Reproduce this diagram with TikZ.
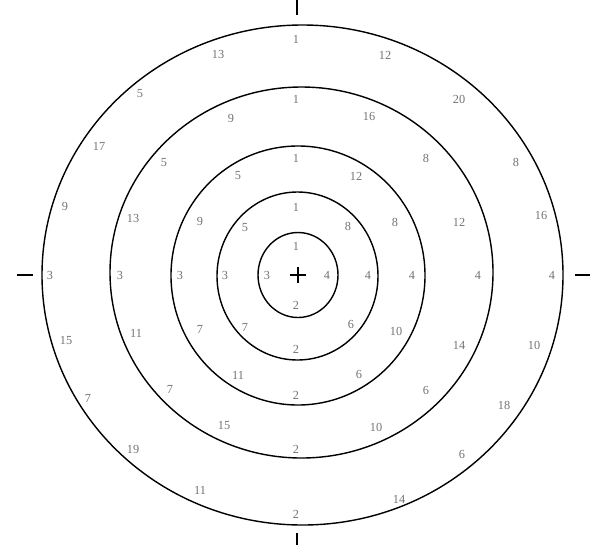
\documentclass[tikz,border=0pt]{standalone}
\usepackage{fontspec}
\setmainfont{Liberation Serif}
\usepackage{tikz}
\usetikzlibrary{positioning,calc}

\begin{document}
\begin{tikzpicture}[x=0.02cm, y=-0.02cm,
  ring/.style={draw, line width=0.8pt},
  mark line/.style={draw, line width=0.9pt},
  num/.style={text=black!55, font=\fontsize{7}{8}\selectfont, inner sep=0pt}
]
  \useasboundingbox (0,0) rectangle (608,545);
  \coordinate (centre) at (298,275);

  % the five rings
  \draw[ring] (298,275) ellipse [x radius=40, y radius=42.5];
  \draw[ring] (297.5,276) ellipse [x radius=80.5, y radius=84];
  \draw[ring] (298,275.5) ellipse [x radius=127, y radius=129.5];
  \draw[ring] (301.5,272.5) ellipse [x radius=191.5, y radius=185.5];
  \draw[ring] (302.5,275) ellipse [x radius=260.5, y radius=250];

  % centre cross and outer ticks
  \draw[mark line] ($(centre)+(-8,0)$) -- ($(centre)+(8,0)$);
  \draw[mark line] ($(centre)+(0,-8)$) -- ($(centre)+(0,8)$);
  \draw[mark line] (297,0) -- (297,15);
  \draw[mark line] (297,533) -- (297,545);
  \draw[mark line] (17,275) -- (33,275);
  \draw[mark line] (575,275) -- (590,275);

  % numbers, ring by ring
  \foreach \x/\y/\t [count=\k] in {296/246/1, 327/275/4, 296/305/2, 267/275/3}
    \node[num] (a\k) at (\x,\y) {\t};
  \foreach \x/\y/\t [count=\k] in {296/207/1, 348/226/8, 368/275/4, 351/324/6,
      296/349/2, 245/327/7, 225/275/3, 245/228/5}
    \node[num] (b\k) at (\x,\y) {\t};
  \foreach \x/\y/\t [count=\k] in {296/158/1, 356/176/12, 395/222/8, 412/275/4,
      396/331/10, 359/374/6, 296/395/2, 238/375/11, 200/329/7, 180/275/3,
      200/221/9, 238/176/5}
    \node[num] (c\k) at (\x,\y) {\t};
  \foreach \x/\y/\t [count=\k] in {296/99/1, 369/116/16, 426/158/8, 459/222/12,
      478/275/4, 459/345/14, 426/390/6, 376/427/10, 296/449/2, 224/425/15,
      170/389/7, 136/333/11, 120/275/3, 133/218/13, 164/163/5, 231/118/9}
    \node[num] (d\k) at (\x,\y) {\t};
  \foreach \x/\y/\t [count=\k] in {296/39/1, 385/55/12, 459/99/20, 516/162/8,
      541/215/16, 552/275/4, 534/345/10, 504/405/18, 462/454/6, 399/499/14,
      296/514/2, 200/490/11, 133/449/19, 88/398/7, 66/340/15, 50/275/3,
      65/206/9, 99/146/17, 140/94/5, 218/54/13}
    \node[num] (e\k) at (\x,\y) {\t};
\end{tikzpicture}
\end{document}
